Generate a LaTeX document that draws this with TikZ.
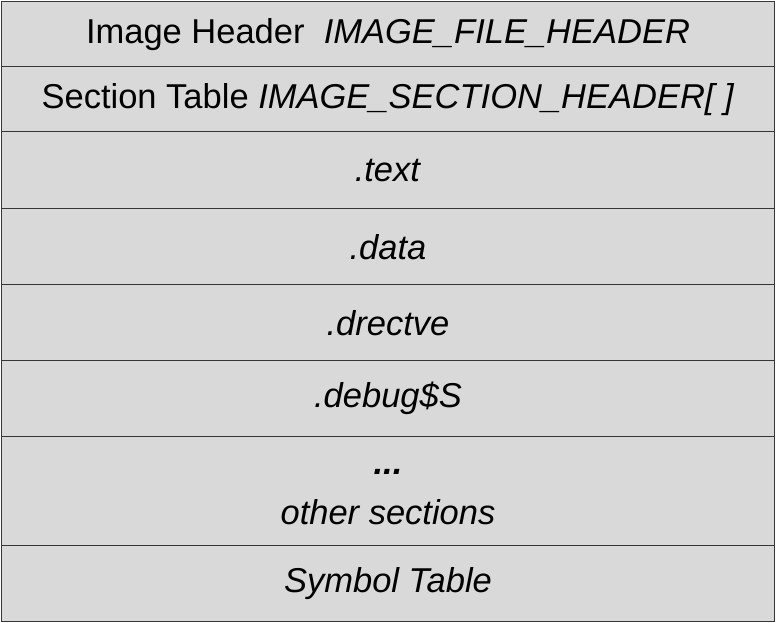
\documentclass[tikz,border=0pt]{standalone}
\usepackage{fontspec}
\setmainfont{Liberation Sans}
\definecolor{cellfill}{HTML}{D9D9D9}
\definecolor{cellline}{HTML}{363636}
\tikzset{
  cell/.style={draw=cellline, fill=cellfill, line width=1.4pt, rectangle,
    minimum width=773pt, inner sep=0pt, anchor=north, font=\fontsize{34.5}{40}\selectfont,
    align=center},
}
\begin{document}
\begin{tikzpicture}[x=1pt,y=-1pt]
  \useasboundingbox (0,0) rectangle (776,623);
  \node[cell, minimum height=65pt] (hdr) at (388,1) {Image Header\ \ \textit{IMAGE\_FILE\_HEADER}};
  \node[cell, minimum height=65pt] (sect) at (388,66) {Section Table \textit{IMAGE\_SECTION\_HEADER[ ]}};
  \node[cell, minimum height=77pt] (text) at (388,131) {\textit{.text}};
  \node[cell, minimum height=76pt] (data) at (388,208) {\textit{.data}};
  \node[cell, minimum height=76pt] (drectve) at (388,284) {\textit{.drectve}};
  \node[cell, minimum height=76pt] (debug) at (388,360) {\textit{.debug\$S}};
  \node[cell, minimum height=109pt] (other) at (388,436)
    {\rule{0pt}{17pt}\textbf{\textit{...}}\\[10pt]\textit{other sections}};
  \node[cell, minimum height=76pt] (sym) at (388,545) {\textit{Symbol Table}};
\end{tikzpicture}
\end{document}
